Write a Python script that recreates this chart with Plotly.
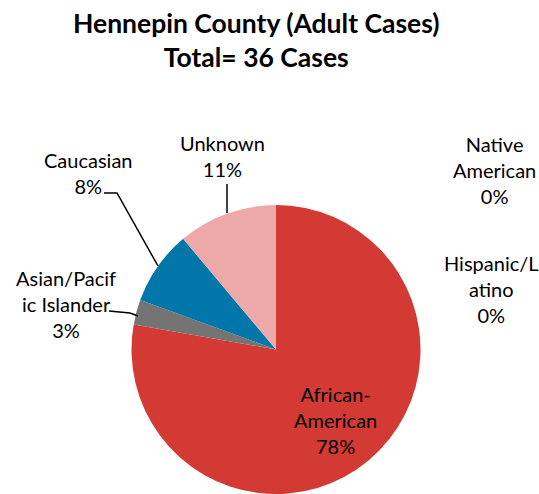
import plotly.graph_objects as go

W, H = 539, 494

categories = ["African-American", "Asian/Pacific Islander", "Caucasian", "Unknown",
              "Native American", "Hispanic/Latino"]
cases = [28, 1, 3, 4, 0, 0]
label_lines = ["African-<br>American", "Asian/Pacif<br>ic Islander", "Caucasian", "Unknown",
               "Native<br>American", "Hispanic/L<br>atino"]
colors = ["#D33A33", "#747474", "#0077A8", "#EDA8A8", "#888888", "#888888"]

total = sum(cases)
pcts = [round(100 * v / total) for v in cases]


def px(x):
    return x / W


def py(y):
    return 1 - y / H


# pie centre and radius in page pixels
cx, cy, r = 276, 349.5, 144.5
fig = go.Figure(go.Pie(
    labels=categories, values=cases, sort=False, direction="clockwise", rotation=0,
    marker=dict(colors=colors, line=dict(width=0)),
    textinfo="none", hoverinfo="label+percent",
    domain=dict(x=[px(cx) - 0.4, px(cx) + 0.4], y=[max(0, py(cy + r)), py(cy - r)]),
    showlegend=False,
))

# label centres (page pixels), keyed by category index
label_pos = {0: (335, 420), 1: (66, 304), 2: (88, 173), 3: (222, 156),
             4: (494, 170), 5: (491, 289)}

annotations = []
for i, (x, y) in label_pos.items():
    annotations.append(dict(
        x=px(x), y=py(y), xref="paper", yref="paper", showarrow=False,
        text=f"{label_lines[i]}<br>{pcts[i]}%", align="center",
        xanchor="center", yanchor="middle",
        font=dict(family="Lato", size=20, color="#000000")))

annotations.append(dict(
    x=px(256), y=py(40), xref="paper", yref="paper", showarrow=False,
    text="<b>Hennepin County (Adult Cases)<br>Total= 36 Cases</b>",
    xanchor="center", yanchor="middle",
    font=dict(family="Lato", size=26.5, color="#000000")))

leaders = [
    [(227, 184), (227, 213)],
    [(104, 193), (117, 193), (158, 266)],
    [(109, 311), (130, 313), (138, 316)],
]
shapes = []
for pts in leaders:
    path = "M " + " L ".join(f"{px(x)},{py(y)}" for x, y in pts)
    shapes.append(dict(type="path", path=path, xref="paper", yref="paper",
                       line=dict(color="#000000", width=1.5)))

fig.update_layout(
    width=W, height=H, margin=dict(l=0, r=0, t=0, b=0),
    paper_bgcolor="white", plot_bgcolor="white",
    annotations=annotations, shapes=shapes,
)

fig.write_html("out.html", config={"displayModeBar": False},
               post_script="document.body.style.margin='0';document.body.style.overflow='hidden';")
